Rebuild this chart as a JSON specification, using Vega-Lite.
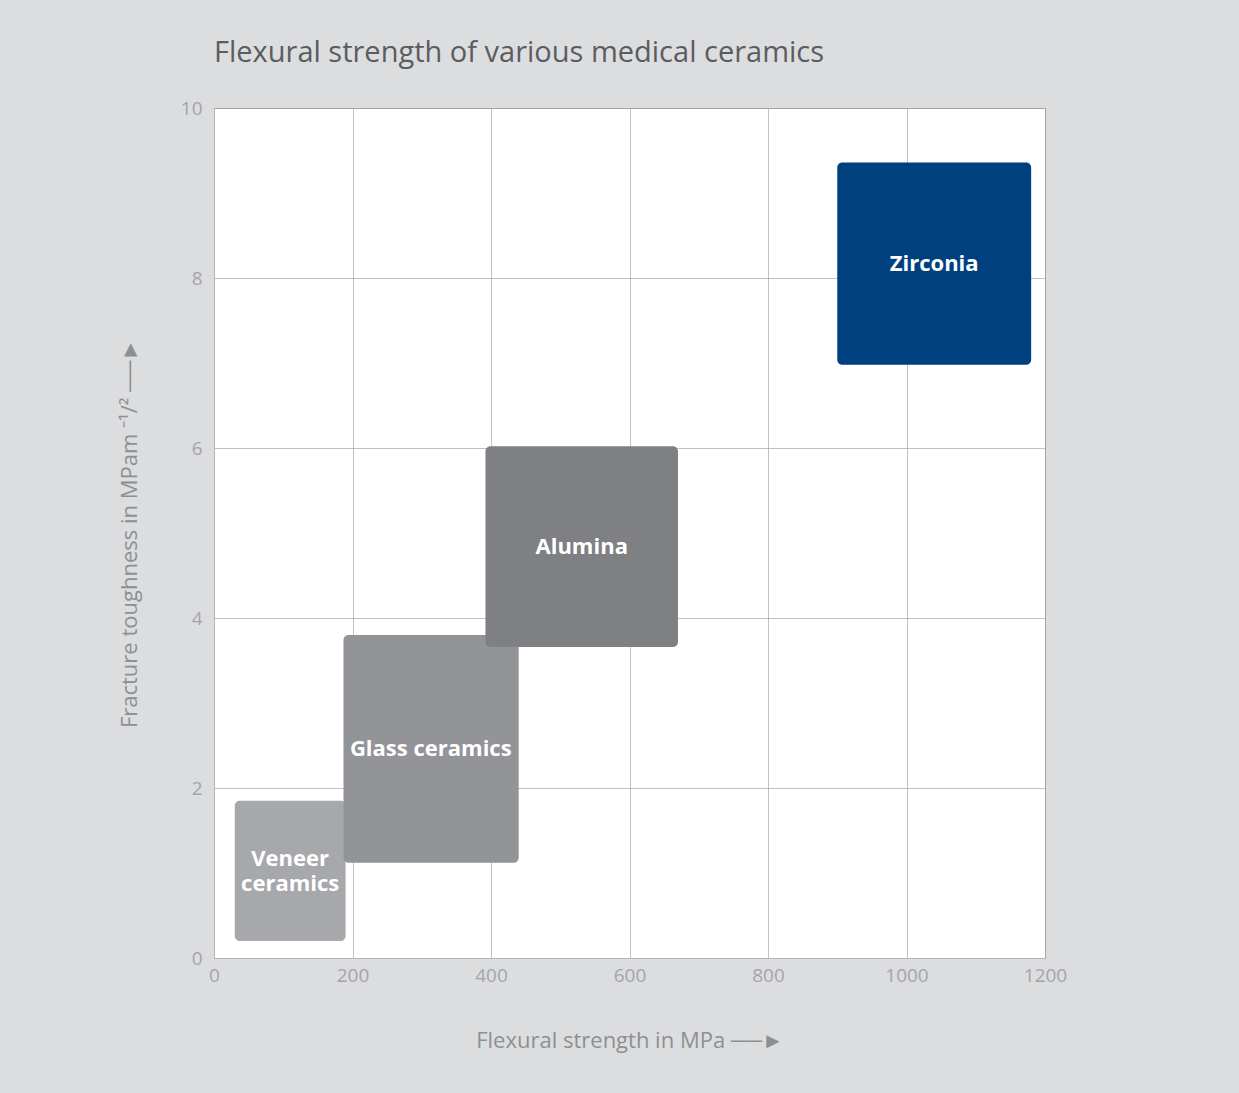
{
  "$schema": "https://vega.github.io/schema/vega-lite/v6.json",
  "width": 831,
  "height": 850,
  "autosize": "none",
  "padding": {"left": 214, "top": 108, "right": 194, "bottom": 135},
  "background": "#dcdddf",
  "title": {
    "text": "Flexural strength of various medical ceramics",
    "anchor": "start",
    "frame": "group",
    "font": "Open Sans",
    "fontSize": 29,
    "fontWeight": "normal",
    "color": "#5b5c5f",
    "offset": 31
  },
  "config": {
    "view": {"fill": "white", "stroke": "#b4b5b7", "strokeWidth": 1},
    "axis": {
      "labelFont": "Open Sans",
      "titleFont": "Open Sans",
      "labelFontSize": 19,
      "labelColor": "#a4a5a8",
      "titleFontSize": 22,
      "titleFontWeight": "normal",
      "titleColor": "#8e8f92",
      "ticks": false,
      "domainColor": "#b4b5b7",
      "gridColor": "#9a9a9a",
      "gridOpacity": 0.6,
      "labelFlush": false,
      "format": "d",
      "zindex": 1
    }
  },
  "data": {
    "values": [
      {"material": "Veneer ceramics", "label": "Veneer\nceramics", "x": 30, "x2": 190, "y": 0.2, "y2": 1.85, "lx": 110, "ly": 1.17},
      {"material": "Glass ceramics", "label": "Glass ceramics", "x": 187, "x2": 440, "y": 1.12, "y2": 3.8, "lx": 313, "ly": 2.46},
      {"material": "Alumina", "label": "Alumina", "x": 392, "x2": 670, "y": 3.66, "y2": 6.02, "lx": 531, "ly": 4.84},
      {"material": "Zirconia", "label": "Zirconia", "x": 900, "x2": 1180, "y": 6.98, "y2": 9.36, "lx": 1040, "ly": 8.17}
    ]
  },
  "layer": [
    {
      "mark": {"type": "rect", "cornerRadius": 5},
      "encoding": {
        "x": {
          "field": "x", "type": "quantitative",
          "scale": {"domain": [0, 1200], "nice": false},
          "axis": {"values": [0, 200, 400, 600, 800, 1000, 1200], "labelPadding": 8, "title": "Flexural strength in MPa  ──►", "titlePadding": 45}
        },
        "x2": {"field": "x2"},
        "y": {
          "field": "y", "type": "quantitative",
          "scale": {"domain": [0, 10], "nice": false},
          "axis": {"values": [0, 2, 4, 6, 8, 10], "labelPadding": 12, "title": "Fracture toughness in MPam ⁻¹/²  ──►", "titlePadding": 39}
        },
        "y2": {"field": "y2"},
        "color": {
          "field": "material", "type": "nominal",
          "scale": {
            "domain": ["Veneer ceramics", "Glass ceramics", "Alumina", "Zirconia"],
            "range": ["#a7a8ab", "#939497", "#7f8083", "#00407f"]
          },
          "legend": null
        }
      }
    },
    {
      "mark": {"type": "text", "font": "Open Sans", "fontWeight": "bold", "fontSize": 22, "color": "white", "lineBreak": "\n", "lineHeight": 25, "baseline": "middle", "align": "center"},
      "encoding": {
        "x": {"field": "lx", "type": "quantitative"},
        "y": {"field": "ly", "type": "quantitative"},
        "text": {"field": "label"}
      }
    }
  ]
}
